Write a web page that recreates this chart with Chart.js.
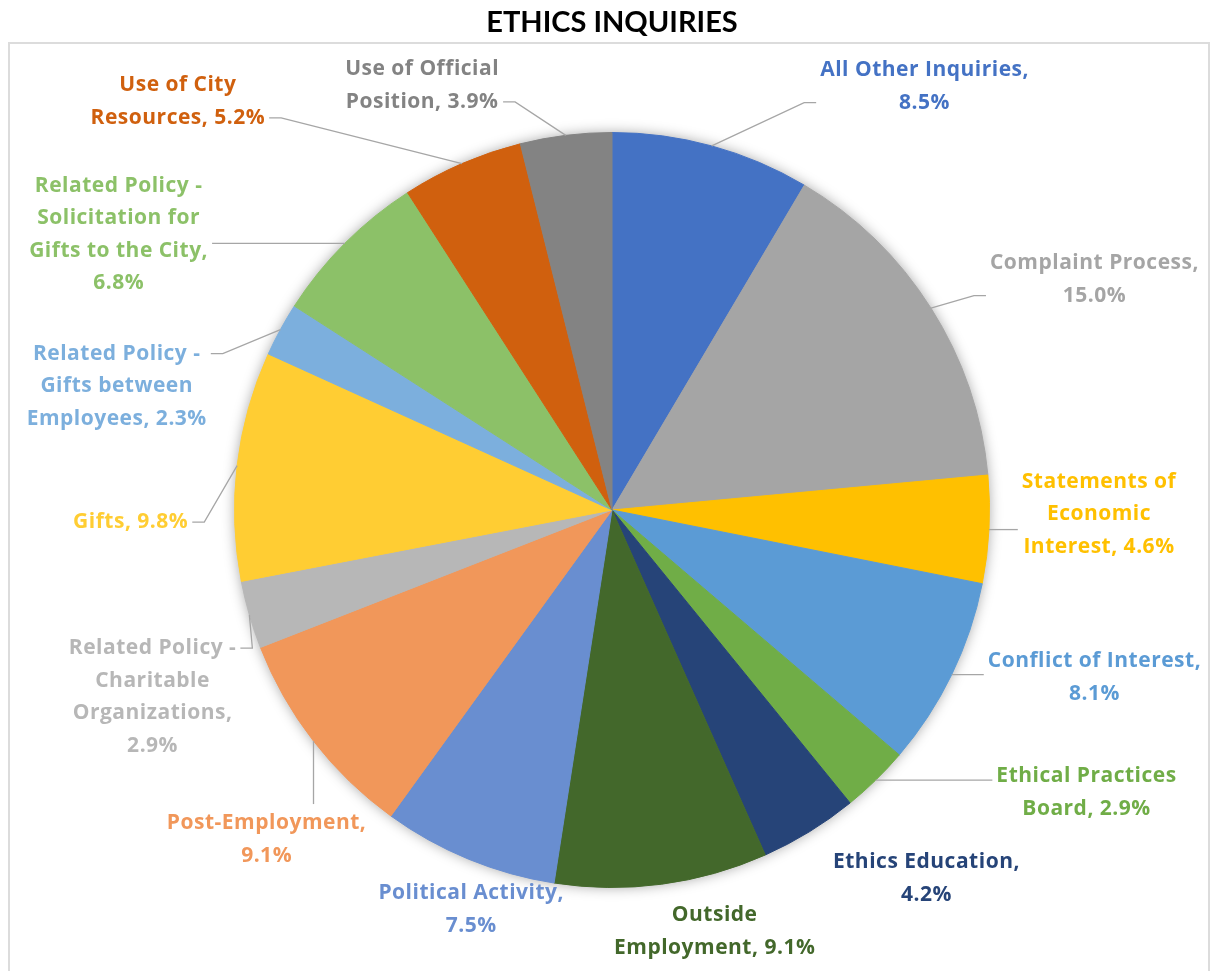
<!DOCTYPE html>
<html>
<head>
<meta charset="utf-8">
<script src="https://cdn.jsdelivr.net/npm/chart.js@4"></script>
<style>
  body { margin: 0; background: #fff; }
  #wrap { width: 1212px; height: 971px; }
</style>
</head>
<body>
<div id="wrap"><canvas id="ethicsChart" width="1212" height="971"></canvas></div>
<script>
// data
const categories = [
  'All Other Inquiries', 'Complaint Process', 'Statements of Economic Interest',
  'Conflict of Interest', 'Ethical Practices Board', 'Ethics Education',
  'Outside Employment', 'Political Activity', 'Post-Employment',
  'Related Policy - Charitable Organizations', 'Gifts',
  'Related Policy - Gifts between Employees',
  'Related Policy - Solicitation for Gifts to the City',
  'Use of City Resources', 'Use of Official Position'
]
const values = [8.5, 15.0, 4.6, 8.1, 2.9, 4.2, 9.1, 7.5, 9.1, 2.9, 9.8, 2.3, 6.8, 5.2, 3.9]
const colors = [
  '#4472C4', '#A5A5A5', '#FFC000', '#5B9BD5', '#70AD47', '#264478',
  '#43682B', '#698ED0', '#F1975A', '#B7B7B7', '#FFCD33', '#7CAFDD',
  '#8CC168', '#D0600E', '#838383'
]

// label layout: block centre relative to pie centre (in radii), words per line, leader line
const labelPos = [
  [0.828, -1.122], [1.278, -0.611], [1.290, 0.011], [1.278, 0.444], [1.257, 0.749],
  [0.833, 0.976], [0.272, 1.116], [-0.373, 1.058], [-0.915, 0.873], [-1.217, 0.495],
  [-1.275, 0.032], [-1.312, -0.328], [-1.307, -0.730], [-1.150, -1.082], [-0.503, -1.124]
]
const labelBreaks = [
  [3, 1], [2, 1], [2, 1, 2], [3, 1], [2, 2], [2, 1], [1, 2], [2, 1], [1, 1],
  [3, 1, 1, 1], [2], [3, 2, 2], [3, 2, 4, 1], [3, 2], [3, 2]
]
const labelLeader = [true, true, true, true, true, false, false, false, true, true, true, true, true, true, true]

const labelFont = '700 21px "Open Sans"'
const lineH = 32.5

const buildLines = (i) => {
  const words = (categories[i] + ', ' + values[i].toFixed(1) + '%').split(' ')
  let out = [], k = 0
  labelBreaks[i].forEach(n => {
    out.push(words.slice(k, k + n).join(' '))
    k += n
  })
  return out
}

//frame, title, shadow and labels
const decor = {
  id: 'decor',
  beforeDraw(chart) {
    const ctx = chart.ctx
    ctx.save()
    ctx.strokeStyle = '#dcdcdc'
    ctx.lineWidth = 2
    ctx.strokeRect(9, 43, 1200, 940)
    ctx.fillStyle = '#000'
    ctx.font = 'bold 29px Lato'
    ctx.textAlign = 'center'
    ctx.textBaseline = 'middle'
    ctx.fillText('ETHICS INQUIRIES', 612, 23)
    ctx.restore()
  },
  beforeDatasetsDraw(chart) {
    const arc = chart.getDatasetMeta(0).data[0]
    if (!arc) return
    const ctx = chart.ctx
    ctx.save()
    ctx.shadowColor = 'rgba(0,0,0,0.4)'
    ctx.shadowBlur = 14
    ctx.fillStyle = '#fff'
    ctx.beginPath()
    ctx.arc(arc.x, arc.y, arc.outerRadius - 1, 0, Math.PI * 2)
    ctx.fill()
    ctx.restore()
  },
  afterDatasetsDraw(chart) {
    const ctx = chart.ctx
    const meta = chart.getDatasetMeta(0)
    ctx.save()
    ctx.font = labelFont
    ctx.letterSpacing = '0.5px'
    meta.data.forEach((arc, i) => {
      const p = arc.getProps(['x', 'y', 'outerRadius', 'startAngle', 'endAngle'], true)
      const mid = (p.startAngle + p.endAngle) / 2
      const ex = p.x + Math.cos(mid) * p.outerRadius
      const ey = p.y + Math.sin(mid) * p.outerRadius
      const lx = p.x + labelPos[i][0] * p.outerRadius
      const ly = p.y + labelPos[i][1] * p.outerRadius
      const lines = buildLines(i)
      const w = Math.max(...lines.map(s => ctx.measureText(s).width))
      const h = lines.length * lineH
      const box = { l: lx - w / 2, r: lx + w / 2, t: ly - h / 2, b: ly + h / 2 }

      if (labelLeader[i]) {
        ctx.strokeStyle = '#a6a6a6'
        ctx.lineWidth = 1.3
        ctx.beginPath()
        ctx.moveTo(ex, ey)
        if (ex < box.l || ex > box.r) {
          const yy = Math.min(Math.max(ey, box.t + lineH / 2), box.b - lineH / 2)
          const side = ex < box.l ? -1 : 1
          const endX = side < 0 ? box.l - 4 : box.r + 4
          ctx.lineTo(endX + side * 12, yy)
          ctx.lineTo(endX, yy)
        } else {
          ctx.lineTo(ex, ey < box.t ? box.t - 3 : box.b + 3)
        }
        ctx.stroke()
      }

      ctx.fillStyle = colors[i]
      ctx.textAlign = 'center'
      ctx.textBaseline = 'middle'
      lines.forEach((s, j) => {
        ctx.fillText(s, lx, box.t + lineH / 2 + j * lineH)
      })
    })
    ctx.restore()
  }
}

const ctx = document.getElementById('ethicsChart').getContext('2d')
const ethicsChart = new Chart(ctx, {
  type: 'pie',
  data: {
    labels: categories,
    datasets: [{
      data: values,
      backgroundColor: colors,
      borderColor: colors,
      borderWidth: 1
    }]
  },
  options: {
    responsive: false,
    animation: false,
    layout: {
      padding: { top: 132, bottom: 83, left: 234, right: 222 }
    },
    plugins: {
      legend: { display: false },
      tooltip: { enabled: false }
    }
  },
  plugins: [decor]
})
</script>
</body>
</html>
